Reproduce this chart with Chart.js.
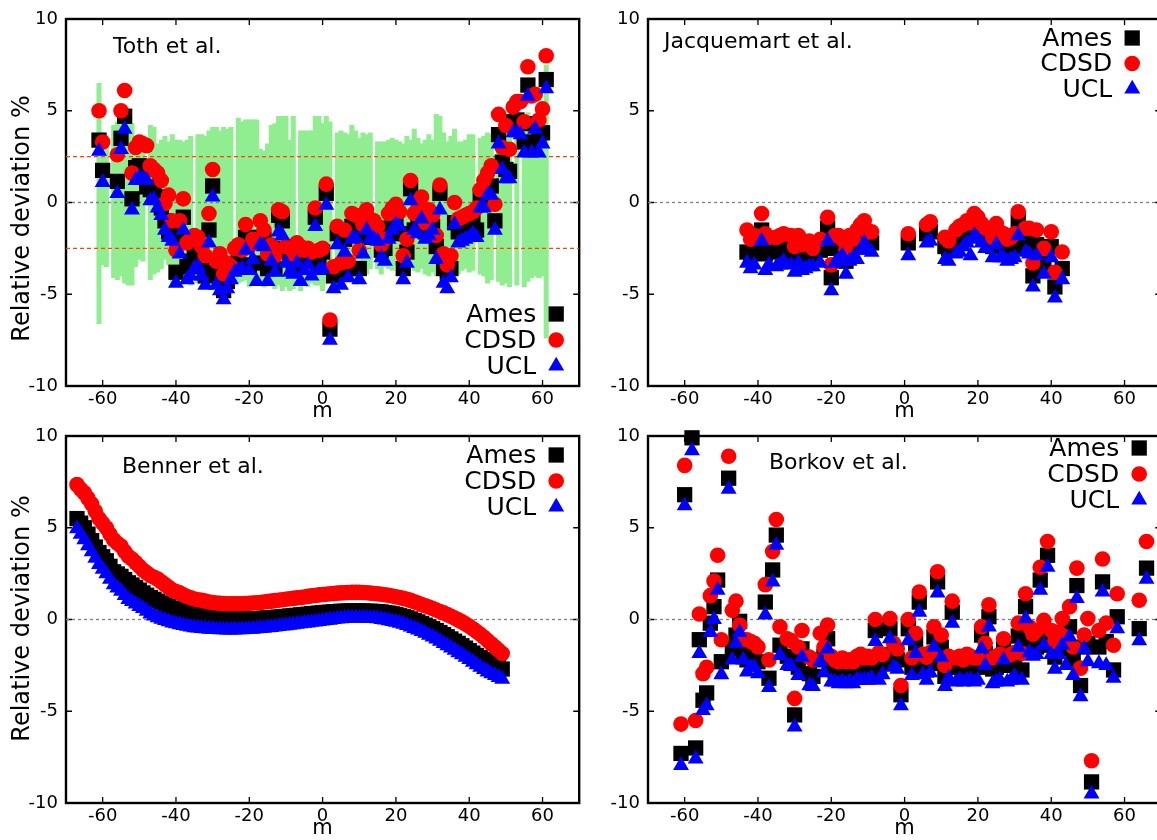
<!DOCTYPE html>
<html>
<head>
<meta charset="utf-8">
<title>Relative deviation vs m</title>
<script src="https://cdn.jsdelivr.net/npm/chart.js@4.4.1/dist/chart.umd.min.js"></script>
<style>
  html, body { margin: 0; padding: 0; background: #fff; overflow: hidden; }
  body { width: 1157px; height: 840px; position: relative; }
  canvas { position: absolute; }
</style>
</head>
<body>
<canvas id="toth" width="590" height="420" style="left:0;top:0"></canvas>
<canvas id="jacq" width="590" height="420" style="left:582px;top:0"></canvas>
<canvas id="benner" width="590" height="420" style="left:0;top:417px"></canvas>
<canvas id="borkov" width="590" height="420" style="left:582px;top:417px"></canvas>
<script>
const FONT = '"DejaVu Sans", sans-serif';
const xTicks = [-60, -40, -20, 0, 20, 40, 60];
const yTicks = [-10, -5, 0, 5, 10];

// ---- Toth et al. ----
const tothM = [-61, -60, -56, -55, -54,
  -52, -51, -50, -49, -48, -47, -46, -45, -44, -43,
  -42, -41, -40, -39, -38, -37, -36, -35, -34, -33,
  -32, -31, -30, -29, -28, -27, -26, -25, -24, -23,
  -22, -21, -20, -19, -18, -17, -16, -15, -14, -13,
  -12, -11, -10, -9, -8, -7, -6, -5, -4, -3,
  -2, -1,
  0, 1, 2, 3, 4, 5, 6, 7, 8, 9,
  10, 11, 12, 13, 14, 15, 16, 17, 18, 19,
  20, 21, 22, 23, 24, 25, 26, 27, 28, 29,
  30, 31, 32, 33, 34, 35, 36, 37, 38, 39,
  40, 41, 42, 43, 44, 45, 46, 47, 48, 49,
  50, 51, 52, 53, 54, 55, 56, 57, 58, 59,
  60, 61];
const tothAmes = [3.4, 1.75, 1.15, 3.5, 4.7,
  0.2, 1.9, 2.0, 1.8, 0.85, 0.7, 0.6, 0.3, -0.3, -1.0,
  -1.6, -1.6, -3.8, -2.1, -0.8, -3.5, -3.2, -3.0, -2.4, -3.5,
  -4.0, -1.5, 0.9, -3.8, -4.1, -4.8, -4.3, -3.6, -3.4, -3.1,
  -3.4, -1.9, -3.5, -2.0, -3.3, -1.9, -2.0, -3.6, -2.5, -3.6,
  -0.7, -1.0, -2.5, -3.1, -3.5, -2.6, -3.1, -3.0, -2.8, -3.1,
  -0.8, -3.3,
  -2.7, 0.5, -6.9, -4.0, -1.7, -3.8, -2.0, -3.6, -1.3, -1.5,
  -3.6, -1.9, -1.05, -1.2, -1.6, -1.8, -2.6, -2.5, -1.4, -1.0,
  -0.9, -1.7, -3.6, -2.7, 0.75, -1.5, -0.8, -1.2, -1.6, -1.4,
  -1.3, -2.4, 0.5, -3.6, -3.8, -3.6, -1.1, -1.6, -1.4, -1.3,
  -1.2, -0.9, -1.5, 0.4, 0.3, 0.6, 0.9, -1.0, 3.7, 2.2,
  1.8, 1.7, 4.4, 4.5, 4.3, 3.3, 6.4, 3.2, 4.3, 3.5,
  3.8, 6.7];
const tothCDSD = [5.0, 3.3, 2.6, 5.0, 6.1,
  1.6, 3.0, 3.3, 3.2, 3.1, 2.0, 1.8, 1.6, 1.2, -0.05,
  0.4, -1.0, -2.6, -1.0, 0.2, -2.2, -2.0, -1.8, -1.9, -2.4,
  -2.9, -0.6, 1.8, -3.2, -2.8, -3.9, -3.3, -3.5, -2.5, -2.3,
  -2.6, -1.2, -2.4, -2.0, -2.2, -1.0, -1.5, -2.8, -2.3, -2.9,
  -0.4, -0.5, -2.4, -2.4, -2.8, -2.2, -2.4, -2.6, -2.5, -2.7,
  -0.3, -2.6,
  -2.5, 1.0, -6.4, -3.5, -1.3, -3.3, -1.5, -3.2, -0.6, -0.7,
  -2.6, -1.2, -0.4, -0.9, -1.0, -1.3, -2.3, -2.0, -0.6, -0.3,
  -0.1, -0.5, -2.9, -2.0, 1.2, -0.6, -0.3, 0.3, -1.1, -0.4,
  -0.7, -1.8, 0.95, -2.8, -3.4, -2.9, 0.0, -0.9, -0.8, -0.7,
  -0.6, -0.5, -0.3, 0.7, 1.2, 1.6, 2.0, -0.1, 4.8, 3.0,
  4.2, 2.9, 5.2, 5.5, 5.5, 4.4, 7.4, 5.8, 5.9, 4.5,
  5.1, 8.0];
const tothUCL = [2.8, 1.1, 0.5, 2.9, 4.0,
  -0.4, 1.2, 1.35, 1.3, 1.2, 0.1, 0.15, -0.3, -0.7, -1.5,
  -1.9, -2.1, -4.4, -2.8, -1.5, -4.2, -4.0, -3.6, -3.5, -4.0,
  -4.5, -2.2, 0.3, -4.5, -4.8, -5.3, -4.7, -4.2, -3.8, -3.7,
  -3.6, -2.6, -3.7, -3.1, -4.3, -2.3, -2.4, -4.3, -3.2, -3.8,
  -1.6, -1.8, -3.3, -3.8, -3.9, -3.3, -4.3, -3.7, -3.4, -4.0,
  -1.3, -3.7,
  -3.6, -0.15, -7.5, -4.7, -2.3, -4.5, -2.7, -4.1, -2.0, -1.9,
  -4.2, -2.8, -1.5, -2.0, -2.0, -2.1, -3.0, -3.2, -2.0, -1.5,
  -1.2, -1.3, -4.2, -3.3, 0.1, -1.5, -1.7, -0.9, -2.0, -1.8,
  -1.5, -3.1, -0.4, -4.4, -4.7, -4.1, -1.2, -2.2, -2.1, -2.0,
  -1.9, -1.7, -1.9, -0.3, -0.3, 0.4, 0.4, -1.5, 3.2, 1.8,
  1.3, 1.3, 3.8, 3.8, 3.7, 2.7, 5.8, 2.7, 4.0, 2.7,
  3.2, 6.2];

// experimental uncertainty band, one bar per m from -61 to 61 (null = no line)
const tothBarM = Array.from({ length: 123 }, (_, i) => i - 61);
const tothBarHigh = [6.5, 3.5, 3.4, null, 4.2, 4.4, 4.5, 4.4, 4.4, 4.3,
  3.3, 3.4, 3.4, null, 4.2, 4.1, 3.2, 3.4, 3.6, 3.3,
  3.7, 3.4, 3.4, 3.3, 3.4, 3.6, null, 3.7, 3.7, 3.6,
  3.9, 4.1, 4.1, 3.9, 4.1, 4.0, 4.1, null, 4.6, 4.4,
  4.5, 4.5, 4.5, 4.5, 2.9, 2.8, 3.2, 4.2, 4.3, 4.7,
  4.7, 4.7, 3.4, 4.7, null, 3.9, 3.9, 3.9, 3.9, 4.7,
  4.7, 4.3, 4.7, 4.4, null, 3.8, 3.9, 3.8, 3.7, 4.2,
  3.9, 3.5, 3.8, 3.7, 3.8, null, 3.3, 3.3, 3.3, 3.4,
  3.5, 3.4, 3.3, 3.2, 3.6, 3.4, 4.0, 3.5, 3.2, 3.4,
  3.7, 3.4, 4.8, 4.7, 3.8, 3.3, 3.6, 4.0, 3.3, 3.3,
  3.4, 3.7, 3.7, null, 3.5, 3.6, 3.8, 3.7, null, 3.9,
  4.0, 3.8, 4.1, null, 4.4, null, 4.6, 4.9, 4.3, 4.8,
  4.5, 4.2, 7.5];
const tothBarLow = [-6.6, -3.4, -3.5, null, -4.1, -4.2, -4.0, -4.4, -4.5, -4.5,
  -3.5, -3.1, -3.2, null, -4.2, -3.9, -3.8, -3.6, -3.1, -3.4,
  -4.4, -4.3, -3.9, -4.0, -4.1, -4.5, null, -4.4, -4.3, -4.4,
  -4.6, -4.7, -4.5, -4.2, -4.5, -4.4, -4.6, null, -4.4, -4.3,
  -4.2, -4.6, -4.5, -4.5, -4.4, -4.6, -4.2, -4.3, -4.7, -4.5,
  -4.8, -4.6, -4.8, -4.7, null, -4.8, -4.5, -4.6, -4.4, -4.5,
  -4.5, -4.8, -4.4, -4.3, null, -4.2, -4.3, -4.1, -4.0, -4.2,
  -3.9, -4.3, -3.8, -3.9, -3.6, null, -3.6, -3.9, -3.5, -3.6,
  -3.7, -3.4, -3.6, -3.8, -3.5, -3.3, -3.7, -3.8, -3.6, -3.9,
  -4.0, -3.8, -4.0, -3.9, -4.1, -4.0, -3.7, -3.6, -3.9, -3.7,
  -3.6, -3.8, -3.7, null, -3.9, -4.0, -4.4, -4.2, null, -4.3,
  -4.5, -4.4, -4.6, null, -4.5, null, -4.6, -4.3, -4.1, -4.0,
  -4.1, -4.0, -7.4];
const tothLimits = [2.5, -2.5];

// ---- Jacquemart et al. ----
const jacqM = [-43, -42, -41, -39, -38, -37, -35, -34, -33, -31,
  -30, -29, -28, -27, -26, -25, -23, -21, -20, -19,
  -18, -17, -16, -15, -14, -13, -12, -11, -10, -9,
  1, 6, 7, 11, 12, 14, 15, 16, 17, 18,
  19, 20, 21, 22, 24, 25, 26, 27, 28, 29,
  30, 31, 33, 34, 35, 36, 38, 40, 41, 43];
const jacqAmes = [-2.7, -2.8, -2.5, -1.5, -2.8, -2.5, -2.7, -2.6, -2.4, -2.6,
  -3.0, -2.7, -2.9, -2.9, -2.7, -3.0, -2.6, -1.4, -4.1, -2.5,
  -2.3, -2.6, -3.2, -2.5, -2.4, -2.2, -1.8, -1.6, -2.0, -2.2,
  -2.2, -1.7, -1.6, -2.4, -2.5, -2.2, -2.0, -1.7, -1.6, -1.8,
  -1.3, -1.5, -1.7, -2.0, -2.4, -1.8, -2.3, -2.3, -2.6, -2.5,
  -2.4, -1.0, -2.1, -2.2, -4.0, -2.3, -3.3, -2.4, -4.6, -3.6];
const jacqCDSD = [-1.5, -2.0, -1.8, -0.6, -1.7, -1.9, -1.9, -1.8, -1.7, -1.8,
  -2.4, -1.8, -2.3, -2.2, -2.1, -2.5, -2.0, -0.8, -3.4, -1.8,
  -1.8, -2.0, -2.6, -1.8, -2.0, -1.5, -1.2, -1.0, -1.6, -1.6,
  -1.7, -1.2, -1.05, -1.9, -2.1, -1.5, -1.3, -1.2, -1.0, -1.1,
  -0.6, -0.8, -1.15, -1.4, -1.9, -1.15, -1.6, -1.7, -2.0, -1.9,
  -1.7, -0.5, -1.4, -1.4, -3.3, -1.5, -2.5, -1.6, -3.8, -2.7];
const jacqUCL = [-3.3, -3.6, -3.4, -2.1, -3.7, -3.4, -3.5, -3.4, -3.2, -3.4,
  -3.8, -3.3, -3.7, -3.6, -3.5, -3.5, -3.3, -2.1, -4.8, -3.3,
  -3.1, -2.9, -3.9, -3.2, -3.0, -3.1, -2.6, -2.2, -2.6, -2.7,
  -2.9, -2.2, -2.1, -3.1, -3.2, -2.8, -2.7, -2.4, -2.2, -2.9,
  -1.8, -2.0, -2.2, -2.5, -3.0, -2.3, -3.0, -3.0, -3.2, -3.1,
  -3.0, -1.8, -2.7, -2.8, -4.6, -2.9, -3.9, -3.0, -5.2, -4.2];

// ---- Benner et al. (m = -67 ... 49) ----
const bennerM = Array.from({ length: 117 }, (_, i) => -67 + i);
const bennerAmes = [5.5, 5.25, 5.0, 4.65, 4.3, 3.95, 3.65, 3.42, 3.2, 2.9,
  2.6, 2.48, 2.35, 2.18, 2.0, 1.88, 1.75, 1.6, 1.45, 1.32,
  1.2, 1.1, 1.0, 0.9, 0.8, 0.71, 0.62, 0.55, 0.48, 0.43,
  0.38, 0.33, 0.28, 0.24, 0.2, 0.17, 0.14, 0.12, 0.1, 0.08,
  0.07, 0.05, 0.04, 0.03, 0.02, 0.02, 0.02, 0.02, 0.03, 0.04,
  0.06, 0.07, 0.09, 0.1, 0.12, 0.13, 0.15, 0.17, 0.19, 0.21,
  0.23, 0.25, 0.27, 0.29, 0.31, 0.33, 0.35, 0.37, 0.39, 0.4,
  0.42, 0.43, 0.45, 0.45, 0.46, 0.46, 0.47, 0.46, 0.46, 0.45,
  0.45, 0.44, 0.43, 0.41, 0.38, 0.35, 0.31, 0.27, 0.22, 0.16,
  0.1, 0.03, -0.05, -0.13, -0.22, -0.31, -0.4, -0.5, -0.6, -0.71,
  -0.82, -0.94, -1.06, -1.18, -1.3, -1.43, -1.56, -1.7, -1.83, -1.96,
  -2.08, -2.19, -2.3, -2.4, -2.5, -2.6, -2.7];
const bennerCDSD = [7.35, 7.1, 6.9, 6.6, 6.3, 5.9, 5.5, 5.25, 5.0, 4.65,
  4.35, 4.15, 4.0, 3.7, 3.45, 3.3, 3.1, 2.9, 2.7, 2.55,
  2.4, 2.3, 2.2, 2.05, 1.9, 1.75, 1.6, 1.52, 1.45, 1.35,
  1.25, 1.18, 1.12, 1.08, 1.05, 1.0, 0.95, 0.92, 0.9, 0.88,
  0.87, 0.86, 0.86, 0.86, 0.86, 0.86, 0.87, 0.88, 0.9, 0.91,
  0.93, 0.95, 0.98, 1.0, 1.03, 1.05, 1.08, 1.1, 1.13, 1.15,
  1.18, 1.2, 1.23, 1.26, 1.29, 1.31, 1.34, 1.36, 1.38, 1.4,
  1.42, 1.44, 1.45, 1.46, 1.47, 1.48, 1.48, 1.48, 1.47, 1.46,
  1.44, 1.42, 1.4, 1.38, 1.35, 1.32, 1.28, 1.24, 1.2, 1.15,
  1.1, 1.04, 0.97, 0.9, 0.82, 0.75, 0.68, 0.6, 0.52, 0.44,
  0.36, 0.27, 0.18, 0.08, -0.02, -0.13, -0.25, -0.37, -0.5, -0.65,
  -0.8, -0.97, -1.15, -1.32, -1.5, -1.67, -1.85];
const bennerUCL = [4.95, 4.65, 4.35, 4.02, 3.7, 3.35, 3.0, 2.75, 2.5, 2.2,
  1.9, 1.72, 1.55, 1.32, 1.1, 0.98, 0.85, 0.72, 0.6, 0.45,
  0.3, 0.2, 0.1, 0.02, -0.05, -0.12, -0.18, -0.23, -0.28, -0.32,
  -0.36, -0.4, -0.44, -0.46, -0.48, -0.5, -0.52, -0.53, -0.54, -0.55,
  -0.55, -0.56, -0.56, -0.56, -0.55, -0.55, -0.54, -0.53, -0.52, -0.5,
  -0.48, -0.47, -0.45, -0.43, -0.4, -0.38, -0.35, -0.33, -0.31, -0.28,
  -0.26, -0.23, -0.2, -0.18, -0.15, -0.13, -0.1, -0.08, -0.05, -0.03,
  0.0, 0.03, 0.05, 0.07, 0.08, 0.09, 0.09, 0.09, 0.09, 0.08,
  0.07, 0.06, 0.04, 0.01, -0.02, -0.06, -0.1, -0.15, -0.2, -0.26,
  -0.32, -0.4, -0.48, -0.56, -0.65, -0.75, -0.85, -0.95, -1.06, -1.18,
  -1.3, -1.42, -1.55, -1.67, -1.8, -1.92, -2.05, -2.18, -2.32, -2.46,
  -2.6, -2.72, -2.85, -2.95, -3.05, -3.15, -3.25];

// ---- Borkov et al. ----
const borkovM = [-61, -60, -58, -57, -56, -55, -54, -53, -52, -51,
  -50, -48, -47, -46, -45, -44, -43, -42, -41, -40,
  -38, -37, -36, -35, -34, -32, -31, -30, -29, -28,
  -26, -25, -23, -22, -21, -20, -19, -18, -17, -16,
  -15, -14, -13, -12, -11, -10, -9, -8, -7, -6,
  -4, -3, -2, -1, 1, 2, 3, 4, 5, 6,
  7, 8, 9, 10, 11, 12, 13, 14, 15, 16,
  17, 18, 19, 20, 21, 22, 23, 24, 25, 26,
  27, 28, 29, 30, 31, 32, 33, 34, 35, 36,
  37, 38, 39, 40, 41, 42, 43, 44, 45, 46,
  47, 48, 49, 50, 51, 53, 54, 55, 57, 58,
  64, 66];
const borkovAmes = [-7.3, 6.8, 9.9, -7.0, -1.1, -4.4, -4.0, -0.2, 0.7, 2.15,
  -2.3, 7.7, -1.6, -0.85, -0.1, -1.95, -2.2, -1.9, -2.2, -2.3,
  0.95, -3.2, 2.7, 4.6, -1.4, -2.0, -2.1, -5.2, -2.6, -1.6,
  -2.95, -3.1, -2.2, -2.0, -1.05, -2.7, -2.8, -2.9, -2.8, -3.0,
  -2.8, -2.9, -2.7, -2.6, -2.7, -2.6, -2.7, -0.6, -2.5, -2.4,
  -0.5, -1.9, -2.2, -4.1, -0.5, -2.6, -1.3, 0.95, -2.5, -2.75,
  -2.4, -0.95, 2.05, -1.5, -3.1, -2.6, 0.4, -2.6, -2.5, -2.7,
  -2.6, -2.5, -2.6, -2.6, -0.85, -1.85, 0.15, -2.7, -2.6, -2.4,
  -1.6, -2.5, -2.5, -2.4, -0.9, -2.75, 0.7, -1.2, -1.5, -1.5,
  2.15, -1.0, 3.5, -1.4, -2.05, -1.3, -0.7, -1.6, -0.4, -2.2,
  1.85, -3.6, -1.5, -1.3, -8.85, -1.5, 2.05, -1.2, -2.75, 0.15,
  -0.5, 2.8];
const borkovCDSD = [-5.7, 8.4, null, -5.5, 0.3, -2.95, -2.6, 1.3, 2.1, 3.5,
  -1.1, 8.9, 0.5, 1.0, -0.3, -1.1, -1.1, -1.2, -1.3, -1.5,
  1.9, -2.2, 3.7, 5.45, -0.4, -1.05, -1.15, -4.3, -1.5, -0.6,
  -2.05, -2.2, -0.75, -1.5, -0.3, -2.0, -2.2, -2.3, -2.1, -2.3,
  -2.2, -2.3, -2.0, -1.9, -2.1, -2.0, -2.1, 0.0, -1.8, -1.9,
  0.05, -1.3, -1.6, -3.6, 0.0, -2.1, -0.75, 1.5, -1.9, -2.05,
  -1.8, -0.4, 2.6, -0.85, -2.5, -2.0, 1.0, -2.1, -2.0, -2.2,
  -1.9, -2.0, -2.1, -2.1, -0.4, -1.3, 0.8, -2.1, -2.0, -1.9,
  -1.05, -2.0, -1.9, -1.8, -0.2, -1.85, 1.4, -0.4, -0.8, -0.6,
  2.85, -0.05, 4.25, -0.6, -1.2, -0.7, 0.05, -0.95, 0.7, -1.5,
  2.8, -2.65, -0.85, 0.05, -7.7, -0.6, 3.3, -0.2, -1.4, 1.4,
  1.05, 4.25];
const borkovUCL = [-7.95, 6.2, 9.2, -7.6, -1.85, -4.95, -4.7, -0.7, 0.0, 1.6,
  -3.0, 7.1, -2.2, -1.3, -0.7, -2.2, -2.85, -2.6, -2.6, -2.95,
  0.25, -3.7, 2.05, 4.05, -1.95, -2.5, -2.55, -5.85, -3.05, -2.05,
  -3.6, -3.65, -2.3, -2.9, -1.6, -3.4, -3.4, -3.5, -3.4, -3.5,
  -3.4, -3.5, -3.3, -3.3, -3.3, -3.3, -3.2, -1.2, -3.3, -3.0,
  -1.05, -2.6, -2.7, -4.7, -1.15, -3.05, -1.85, 0.4, -3.0, -3.3,
  -2.9, -1.5, 1.45, -2.05, -3.65, -3.2, -0.2, -3.4, -3.3, -3.4,
  -3.3, -3.3, -3.4, -3.3, -1.6, -2.5, -0.4, -3.5, -3.4, -3.3,
  -2.2, -3.4, -3.3, -3.1, -1.5, -3.3, 0.05, -1.8, -2.0, -1.9,
  1.6, -1.4, 2.85, -1.9, -2.7, -1.9, -1.4, -2.5, -0.95, -3.05,
  1.15, -4.2, -1.6, -2.3, -9.5, -2.4, 1.5, -2.5, -3.2, -0.5,
  -1.15, 2.2];

// marker style per calculation, drawn UCL on top, then CDSD, then Ames
const series = [
  { label: 'Ames', color: '#000000', style: 'rect', radius: 10.8, order: 3 },
  { label: 'CDSD', color: '#ff0000', style: 'circle', radius: 7.8, order: 2 },
  { label: 'UCL', color: '#0000ff', style: 'triangle', radius: 9.2, order: 1 }
];

function points(ms, vals) {
  const out = [];
  ms.forEach((m, i) => {
    if (vals[i] !== null) out.push({ x: m, y: vals[i] });
  });
  return out;
}

function markerSets(ms, ames, cdsd, ucl) {
  return [ames, cdsd, ucl].map((vals, k) => ({
    type: 'scatter',
    label: series[k].label,
    data: points(ms, vals),
    pointStyle: series[k].style,
    pointRadius: series[k].radius,
    backgroundColor: series[k].color,
    borderColor: series[k].color,
    borderWidth: 0,
    order: series[k].order,
    clip: false
  }));
}

function hline(value, color, dash) {
  return {
    type: 'line',
    label: '',
    data: [{ x: -70, y: value }, { x: 70, y: value }],
    borderColor: color,
    borderWidth: 1.3,
    borderDash: dash,
    pointRadius: 0,
    order: 8
  };
}

// gnuplot style frame with inward ticks on all four sides
const panelFrame = {
  id: 'panelFrame',
  beforeDatasetsDraw(chart) {
    const { ctx, chartArea: a, scales: { x, y } } = chart;
    ctx.save();
    ctx.strokeStyle = '#000';
    ctx.lineWidth = 1.3;
    ctx.beginPath();
    x.ticks.forEach(t => {
      const px = x.getPixelForValue(t.value);
      ctx.moveTo(px, a.bottom); ctx.lineTo(px, a.bottom - 6);
      ctx.moveTo(px, a.top); ctx.lineTo(px, a.top + 6);
    });
    y.ticks.forEach(t => {
      const py = y.getPixelForValue(t.value);
      ctx.moveTo(a.left, py); ctx.lineTo(a.left + 6, py);
      ctx.moveTo(a.right, py); ctx.lineTo(a.right - 6, py);
    });
    ctx.stroke();
    ctx.lineWidth = 2.4;
    ctx.strokeRect(a.left, a.top, a.right - a.left, a.bottom - a.top);
    ctx.restore();
  }
};

// panel caption, y label and the key (text first, symbol on the right)
const panelText = {
  id: 'panelText',
  afterDatasetsDraw(chart, args, opts) {
    const { ctx, chartArea: a } = chart;
    ctx.save();
    ctx.textBaseline = 'middle';
    ctx.fillStyle = '#000';
    ctx.font = '22px ' + FONT;
    ctx.textAlign = 'left';
    ctx.fillText(opts.title, a.left + opts.titleX, a.top + opts.titleY);

    if (opts.yLabel) {
      ctx.save();
      ctx.translate(23, (a.top + a.bottom) / 2 + opts.yLabelShift);
      ctx.rotate(-Math.PI / 2);
      ctx.textAlign = 'center';
      ctx.font = '24px ' + FONT;
      ctx.fillText(opts.yLabel, 0, 0);
      ctx.restore();
    }

    ctx.font = '25px ' + FONT;
    ctx.textAlign = 'right';
    const mx = a.right - opts.keyRight;
    series.forEach((s, i) => {
      const ds = chart.data.datasets.find(d => d.label === s.label);
      const yy = a.top + opts.keyTop + i * opts.keyGap;
      ctx.fillStyle = '#000';
      ctx.fillText(ds.label, mx - 20, yy + 1);
      ctx.fillStyle = ds.backgroundColor;
      Chart.helpers.drawPoint(ctx, { pointStyle: ds.pointStyle, radius: ds.pointRadius, rotation: 0, borderWidth: 0 }, mx, yy);
    });
    ctx.restore();
  }
};

function makePanel(id, datasets, deco) {
  return new Chart(document.getElementById(id), {
    type: 'scatter',
    data: { datasets },
    options: {
      responsive: false,
      animation: false,
      events: [],
      layout: { padding: { top: 19, right: 7, bottom: 0, left: 0 } },
      plugins: {
        legend: { display: false },
        tooltip: { enabled: false },
        panelText: deco
      },
      scales: {
        x: {
          type: 'linear',
          min: -70,
          max: 70,
          offset: false,
          grid: { display: false, drawTicks: false, offset: false },
          border: { display: false },
          afterBuildTicks: axis => { axis.ticks = xTicks.map(v => ({ value: v })); },
          afterFit: axis => { axis.height = 34; },
          ticks: {
            autoSkip: false, maxRotation: 0, padding: 3, color: '#000',
            font: { family: FONT, size: 18 },
            callback: v => String(v)
          },
          title: {
            display: true, text: 'm', color: '#000',
            font: { family: FONT, size: 21, lineHeight: 0.8 },
            padding: { top: 0, bottom: 0 }
          }
        },
        y: {
          min: -10,
          max: 10,
          grid: { display: false, drawTicks: false },
          border: { display: false },
          afterBuildTicks: axis => { axis.ticks = yTicks.map(v => ({ value: v })); },
          afterFit: axis => { axis.width = 66; },
          ticks: {
            padding: 8, color: '#000',
            font: { family: FONT, size: 18 },
            callback: v => String(v)
          }
        }
      }
    },
    plugins: [panelFrame, panelText]
  });
}

const zeroLine = () => hline(0, '#7f7f7f', [3, 3]);

makePanel('toth', [
  {
    type: 'bar',
    label: 'range',
    data: tothBarM.map((m, i) => ({ x: m, y: tothBarLow[i] === null ? null : [tothBarLow[i], tothBarHigh[i]] })),
    backgroundColor: '#90ee90',
    borderWidth: 0,
    barThickness: 4.4,
    order: 10
  },
  hline(tothLimits[0], '#ff4500', [4, 3]),
  hline(tothLimits[1], '#ff4500', [4, 3]),
  zeroLine(),
  ...markerSets(tothM, tothAmes, tothCDSD, tothUCL)
], { title: 'Toth et al.', titleX: 47, titleY: 28, keyRight: 23, keyTop: 295, keyGap: 26,
     yLabel: 'Relative deviation %', yLabelShift: 16 });

makePanel('jacq', [
  zeroLine(),
  ...markerSets(jacqM, jacqAmes, jacqCDSD, jacqUCL)
], { title: 'Jacquemart et al.', titleX: 16, titleY: 23, keyRight: 29, keyTop: 19, keyGap: 25.5 });

makePanel('benner', [
  zeroLine(),
  ...markerSets(bennerM, bennerAmes, bennerCDSD, bennerUCL)
], { title: 'Benner et al.', titleX: 56, titleY: 31, keyRight: 23, keyTop: 19, keyGap: 26,
     yLabel: 'Relative deviation %', yLabelShift: -1 });

makePanel('borkov', [
  zeroLine(),
  ...markerSets(borkovM, borkovAmes, borkovCDSD, borkovUCL)
], { title: 'Borkov et al.', titleX: 121, titleY: 27, keyRight: 22, keyTop: 12, keyGap: 26 });
</script>
</body>
</html>
